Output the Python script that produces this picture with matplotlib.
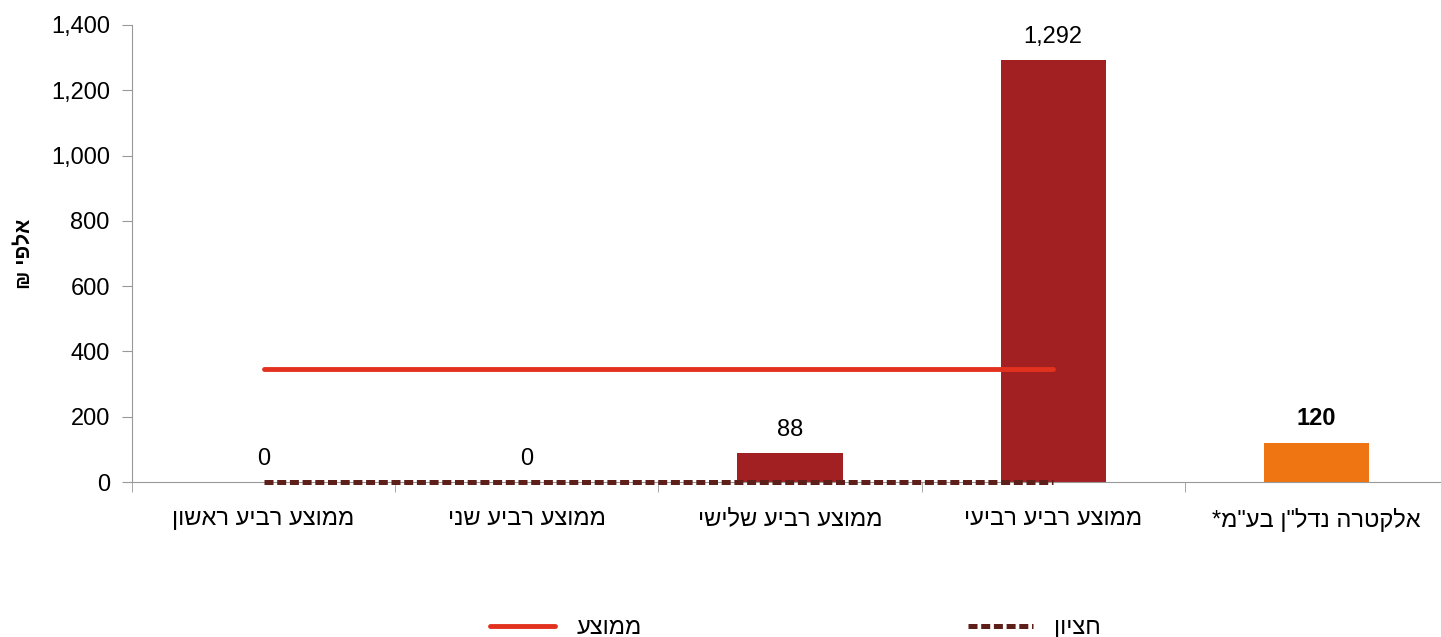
import matplotlib.pyplot as plt


def heb(s):
    # matplotlib has no bidi, so flip Hebrew to visual order
    return s[::-1]


plt.rcParams['font.family'] = ['Liberation Sans', 'DejaVu Sans']

categories = ["ממוצע רביע ראשון", "ממוצע רביע שני", "ממוצע רביע שלישי",
              "ממוצע רביע רביעי", "אלקטרה נדל\"ן בע\"מ*"]
values = [0, 0, 88, 1292, 120]
value_labels = ["0", "0", "88", "1,292", "120"]
average = 345
median = 0
y_ticks = [0, 200, 400, 600, 800, 1000, 1200, 1400]

bar_colors = ["#A21F22"] * 4 + ["#EE7512"]

fig = plt.figure(figsize=(14.41, 6.37), dpi=100)
ax = fig.add_axes([132 / 1441, 0.2433, 1316 / 1441, 0.7175])

x = list(range(len(categories)))
ax.bar(x, values, width=0.4, color=bar_colors, zorder=2)

# value labels
for i, (v, lab) in enumerate(zip(values, value_labels)):
    bold = i == len(values) - 1
    ax.annotate(lab, (i, v), xytext=(0, 9), textcoords="offset points",
                ha="center", va="bottom", fontsize=17,
                fontweight="bold" if bold else "normal")

# average and median lines over the four quartiles
ax.plot([0, 3], [average, average], color="#E2321F", lw=3.5,
        solid_capstyle="round", zorder=3, label=heb("ממוצע"))
ax.plot([0, 3], [median, median], color="#5E1F1B", lw=3.6,
        linestyle=(0, (1.8, 0.74)), dash_capstyle="butt", zorder=3,
        clip_on=False, label=heb("חציון"))

ax.set_xlim(-0.5, 4.5)
ax.set_ylim(0, 1400)
ax.set_yticks(y_ticks)
ax.set_yticklabels([f"{t:,}" for t in y_ticks], fontsize=17)

ax.set_xticks(x)
ax.set_xticklabels([heb(c) for c in categories], fontsize=17)
ax.set_xticks([i - 0.5 for i in range(len(categories) + 1)], minor=True)
ax.tick_params(axis="x", which="major", length=0, pad=19)
ax.tick_params(axis="x", which="minor", length=7, color="#999999")
ax.tick_params(axis="y", length=7, color="#999999", pad=9)

ax.set_ylabel(heb("אלפי ₪"), fontsize=15, fontweight="bold", labelpad=12)

for side in ["top", "right"]:
    ax.spines[side].set_visible(False)
for side in ["left", "bottom"]:
    ax.spines[side].set_color("#999999")

fig.legend(loc="center", bbox_to_anchor=(0.552, 0.014), ncol=2, frameon=False,
           fontsize=17, handlelength=2.75, handletextpad=0.9,
           columnspacing=13.8)

plt.savefig("out.png", dpi=100)
